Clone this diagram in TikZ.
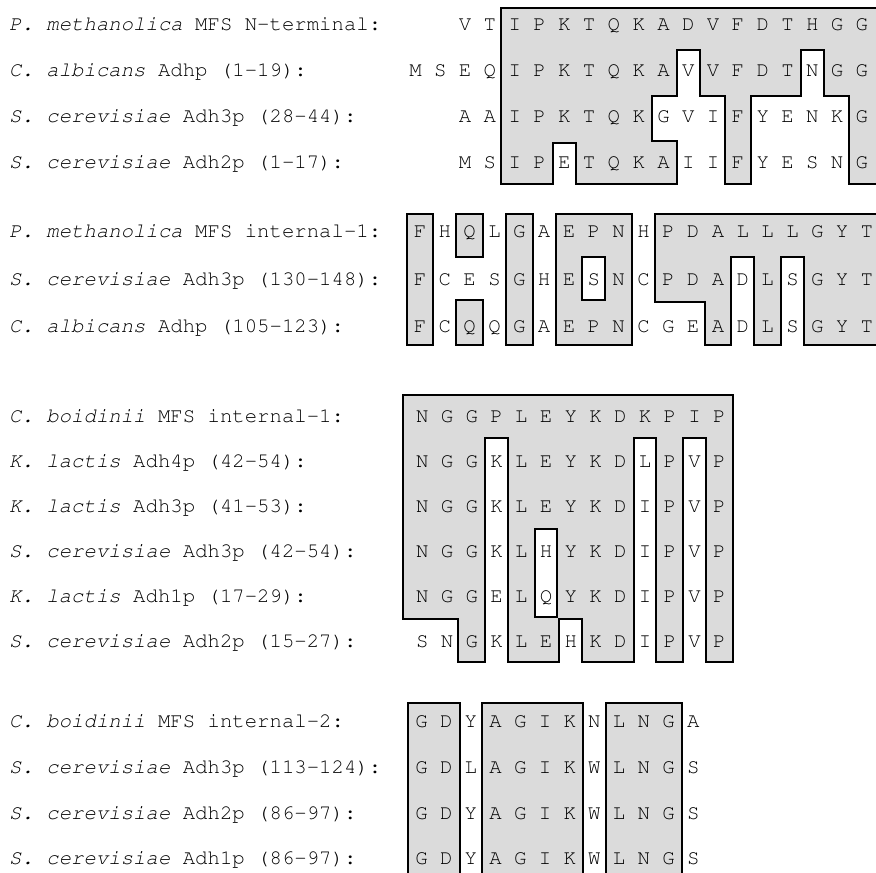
\documentclass[tikz,border=0pt]{standalone}
\usepackage[T1]{fontenc}
\renewcommand\ttdefault{pcr}
\newcommand\seqfont{\ttfamily\fontsize{20.67}{24}\selectfont}
\tikzset{
  aa/.style={inner sep=0pt, anchor=base, font=\seqfont},
  lbl/.style={inner sep=0pt, anchor=base west, font=\seqfont},
  boxedge/.style={draw=black, line width=4pt},
  boxfill/.style={fill=black!14},
}
% shaded runs: #1 = x of column 0, #2 = pitch, #3 = list colA/colB/ytop/ybottom
\newcommand\shadeblock[3]{%
  \foreach \ca/\cb/\ya/\yb in {#3}
    \draw[boxedge] ({#1+(\ca-0.5)*#2},\ya) rectangle ({#1+(\cb+0.5)*#2},\yb);
  \foreach \ca/\cb/\ya/\yb in {#3}
    \fill[boxfill] ({#1+(\ca-0.5)*#2},\ya) rectangle ({#1+(\cb+0.5)*#2},\yb);
}
% sequence row: #1 name prefix, #2 x of col 0, #3 pitch, #4 first col, #5 y centre, #6 letters
\newcommand\seqrow[6]{%
  \foreach \ch [count=\ci from #4] in {#6}
    \node[aa] (#1c\ci) at ({#2+\ci*#3},{#5+5.5}) {\ch};
}
\begin{document}
\begin{tikzpicture}[x=1pt,y=-1pt]
\useasboundingbox (0,0) rectangle (876,873);
\fill[white] (0,0) rectangle (876,873);

% ---------------- block 1 ----------------
\shadeblock{415.5}{24.8}{4/19/8.5/49,
  4/10/49/95, 12/15/49/95, 17/19/49/95,
  4/9/95/141.5, 13/13/95/141.5, 18/19/95/141.5,
  4/5/141.5/183, 7/10/141.5/183, 13/13/141.5/183, 18/19/141.5/183}
\seqrow{b1r1}{415.5}{24.8}{2}{25}{V,T,I,P,K,T,Q,K,A,D,V,F,D,T,H,G,G}
\seqrow{b1r2}{415.5}{24.8}{0}{70.5}{M,S,E,Q,I,P,K,T,Q,K,A,V,V,F,D,T,N,G,G}
\seqrow{b1r3}{415.5}{24.8}{2}{116.5}{A,A,I,P,K,T,Q,K,G,V,I,F,Y,E,N,K,G}
\seqrow{b1r4}{415.5}{24.8}{2}{163}{M,S,I,P,E,T,Q,K,A,I,I,F,Y,E,S,N,G}
\node[lbl] (L1) at (9,30.5) {\textit{P. methanolica} MFS N-terminal:};
\node[lbl] (L2) at (9,76) {\textit{C. albicans} Adhp (1-19):};
\node[lbl] (L3) at (9,122) {\textit{S. cerevisiae} Adh3p (28-44):};
\node[lbl] (L4) at (9,168.5) {\textit{S. cerevisiae} Adh2p (1-17):};

% ---------------- block 2 ----------------
\shadeblock{420}{24.83}{0/0/215/256, 2/2/215/256, 4/4/215/256, 6/8/215/256, 10/18/215/256,
  0/0/256/301, 4/4/256/301, 6/6/256/301, 8/8/256/301, 10/12/256/301, 14/14/256/301, 16/18/256/301,
  0/0/301/344, 2/2/301/344, 4/4/301/344, 6/8/301/344, 12/12/301/344, 14/14/301/344, 16/18/301/344}
\seqrow{b2r1}{420}{24.83}{0}{232}{F,H,Q,L,G,A,E,P,N,H,P,D,A,L,L,L,G,Y,T}
\seqrow{b2r2}{420}{24.83}{0}{280}{F,C,E,S,G,H,E,S,N,C,P,D,A,D,L,S,G,Y,T}
\seqrow{b2r3}{420}{24.83}{0}{327}{F,C,Q,Q,G,A,E,P,N,C,G,E,A,D,L,S,G,Y,T}
\node[lbl] (L5) at (9,237.5) {\textit{P. methanolica} MFS internal-1:};
\node[lbl] (L6) at (9,285.5) {\textit{S. cerevisiae} Adh3p (130-148):};
\node[lbl] (L7) at (9,332.5) {\textit{C. albicans} Adhp (105-123):};

% ---------------- block 3 ----------------
\shadeblock{422.2}{24.75}{-0.25/12/395.5/437,
  -0.25/2/437/482, 4/8/437/482, 10/10/437/482, 12/12/437/482,
  -0.25/2/482/527.5, 4/8/482/527.5, 10/10/482/527.5, 12/12/482/527.5,
  -0.25/2/527.5/572.5, 4/4/527.5/572.5, 6/8/527.5/572.5, 10/10/527.5/572.5, 12/12/527.5/572.5,
  -0.25/2/572.5/617.5, 4/4/572.5/617.5, 6/8/572.5/617.5, 10/10/572.5/617.5, 12/12/572.5/617.5,
  2/2/617.5/661, 4/5/617.5/661, 7/8/617.5/661, 10/10/617.5/661, 12/12/617.5/661}
\seqrow{b3r1}{422.2}{24.75}{0}{417}{N,G,G,P,L,E,Y,K,D,K,P,I,P}
\seqrow{b3r2}{422.2}{24.75}{0}{462}{N,G,G,K,L,E,Y,K,D,L,P,V,P}
\seqrow{b3r3}{422.2}{24.75}{0}{507}{N,G,G,K,L,E,Y,K,D,I,P,V,P}
\seqrow{b3r4}{422.2}{24.75}{0}{552}{N,G,G,K,L,H,Y,K,D,I,P,V,P}
\seqrow{b3r5}{422.2}{24.75}{0}{597}{N,G,G,E,L,Q,Y,K,D,I,P,V,P}
\seqrow{b3r6}{422.2}{24.75}{0}{642}{S,N,G,K,L,E,H,K,D,I,P,V,P}
\node[lbl] (L8) at (9,422.5) {\textit{C. boidinii} MFS internal-1:};
\node[lbl] (L9) at (9,467.5) {\textit{K. lactis} Adh4p (42-54):};
\node[lbl] (L10) at (9,512.5) {\textit{K. lactis} Adh3p (41-53):};
\node[lbl] (L11) at (9,557.5) {\textit{S. cerevisiae} Adh3p (42-54):};
\node[lbl] (L12) at (9,602.5) {\textit{K. lactis} Adh1p (17-29):};
\node[lbl] (L13) at (9,647.5) {\textit{S. cerevisiae} Adh2p (15-27):};

% ---------------- block 4 ----------------
\shadeblock{421.5}{24.7}{0/1/704/885, 3/6/704/885, 8/10/704/885}
\seqrow{b4r1}{421.5}{24.7}{0}{722}{G,D,Y,A,G,I,K,N,L,N,G,A}
\seqrow{b4r2}{421.5}{24.7}{0}{768}{G,D,L,A,G,I,K,W,L,N,G,S}
\seqrow{b4r3}{421.5}{24.7}{0}{814}{G,D,Y,A,G,I,K,W,L,N,G,S}
\seqrow{b4r4}{421.5}{24.7}{0}{859}{G,D,Y,A,G,I,K,W,L,N,G,S}
\node[lbl] (L14) at (9,727.5) {\textit{C. boidinii} MFS internal-2:};
\node[lbl] (L15) at (9,773.5) {\textit{S. cerevisiae} Adh3p (113-124):};
\node[lbl] (L16) at (9,819.5) {\textit{S. cerevisiae} Adh2p (86-97):};
\node[lbl] (L17) at (9,864.5) {\textit{S. cerevisiae} Adh1p (86-97):};
\end{tikzpicture}
\end{document}
